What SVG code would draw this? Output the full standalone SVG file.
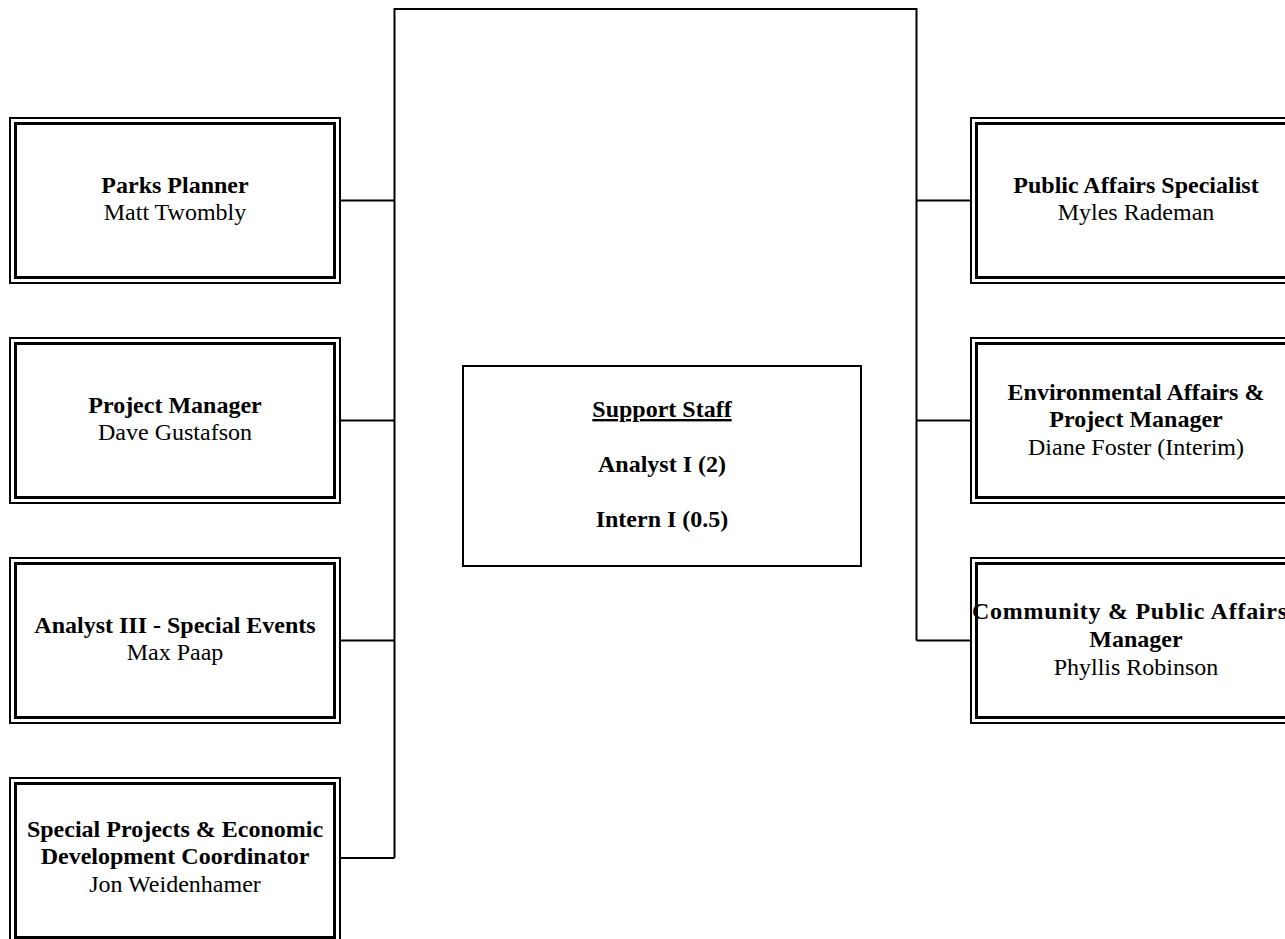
<svg xmlns="http://www.w3.org/2000/svg" width="1285" height="939" viewBox="0 0 1285 939">
  <style>
    .outer { fill: #ffffff; stroke: #000000; stroke-width: 2; }
    .inner { fill: none; stroke: #000000; stroke-width: 3; }
    .plain { fill: #ffffff; stroke: #000000; stroke-width: 2; }
    .wire { fill: none; stroke: #000000; stroke-width: 2; }
    text { font-family: "Liberation Serif", "Times New Roman", serif; font-size: 24px; fill: #000000; text-anchor: middle; }
    .title { font-weight: bold; }
    .u { text-decoration: underline; }
  </style>

  <rect width="1285" height="939" fill="#ffffff"/>

  <!-- reporting lines -->
  <g id="connectors">
    <polyline class="wire" points="394.5,858 394.5,9 916.5,9 916.5,640.5"/>
    <line class="wire" x1="340" y1="200.5" x2="394.5" y2="200.5"/>
    <line class="wire" x1="340" y1="420.5" x2="394.5" y2="420.5"/>
    <line class="wire" x1="340" y1="640.5" x2="394.5" y2="640.5"/>
    <line class="wire" x1="340" y1="858" x2="394.5" y2="858"/>
    <line class="wire" x1="916.5" y1="200.5" x2="971" y2="200.5"/>
    <line class="wire" x1="916.5" y1="420.5" x2="971" y2="420.5"/>
    <line class="wire" x1="916.5" y1="640.5" x2="971" y2="640.5"/>
  </g>

  <!-- left column -->
  <g id="parks-planner">
    <rect class="outer" x="10" y="118" width="330" height="165"/>
    <rect class="inner" x="15.5" y="123.5" width="319" height="154"/>
    <text class="title" x="175" y="193">Parks Planner</text>
    <text x="175" y="220">Matt Twombly</text>
  </g>

  <g id="project-manager">
    <rect class="outer" x="10" y="338" width="330" height="165"/>
    <rect class="inner" x="15.5" y="343.5" width="319" height="154"/>
    <text class="title" x="175" y="413">Project Manager</text>
    <text x="175" y="440">Dave Gustafson</text>
  </g>

  <g id="analyst-special-events">
    <rect class="outer" x="10" y="558" width="330" height="165"/>
    <rect class="inner" x="15.5" y="563.5" width="319" height="154"/>
    <text class="title" x="175" y="633">Analyst III - Special Events</text>
    <text x="175" y="660">Max Paap</text>
  </g>

  <g id="special-projects">
    <rect class="outer" x="10" y="778" width="330" height="165"/>
    <rect class="inner" x="15.5" y="783.5" width="319" height="154"/>
    <text class="title" x="175" y="837">Special Projects &amp; Economic</text>
    <text class="title" x="175" y="864">Development Coordinator</text>
    <text x="175" y="892">Jon Weidenhamer</text>
  </g>

  <!-- centre -->
  <g id="support-staff">
    <rect class="plain" x="463" y="366" width="398" height="200"/>
    <text class="title u" x="662" y="417">Support Staff</text>
    <text class="title" x="662" y="472">Analyst I (2)</text>
    <text class="title" x="662" y="527">Intern I (0.5)</text>
  </g>

  <!-- right column -->
  <g id="public-affairs-specialist">
    <rect class="outer" x="971" y="118" width="330" height="165"/>
    <rect class="inner" x="976.5" y="123.5" width="319" height="154"/>
    <text class="title" x="1136" y="193">Public Affairs Specialist</text>
    <text x="1136" y="220">Myles Rademan</text>
  </g>

  <g id="environmental-affairs">
    <rect class="outer" x="971" y="338" width="330" height="165"/>
    <rect class="inner" x="976.5" y="343.5" width="319" height="154"/>
    <text class="title" x="1136" y="400">Environmental Affairs &amp;</text>
    <text class="title" x="1136" y="427">Project Manager</text>
    <text x="1136" y="455">Diane Foster (Interim)</text>
  </g>

  <g id="community-public-affairs">
    <rect class="outer" x="971" y="558" width="330" height="165"/>
    <rect class="inner" x="976.5" y="563.5" width="319" height="154"/>
    <text class="title" x="972" y="619" style="text-anchor:start" textLength="315" lengthAdjust="spacing">Community &amp; Public Affairs</text>
    <text class="title" x="1136" y="647">Manager</text>
    <text x="1136" y="675">Phyllis Robinson</text>
  </g>
</svg>
